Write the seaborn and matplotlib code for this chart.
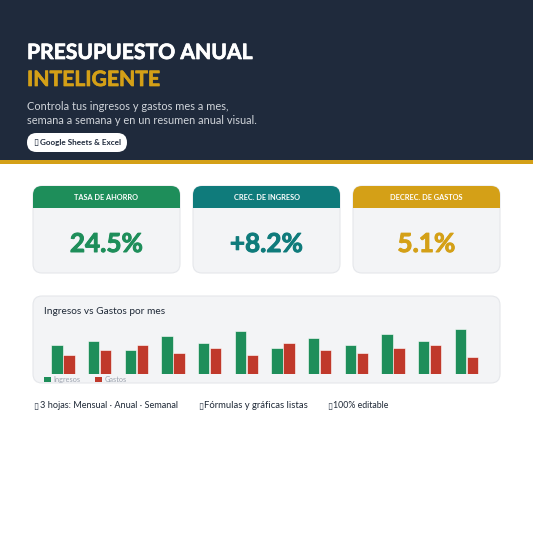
import matplotlib
matplotlib.use("Agg")
import matplotlib.pyplot as plt
import matplotlib.patheffects as pe
from matplotlib.patches import FancyBboxPatch, Rectangle
import seaborn as sns
import pandas as pd

months = ["Ene", "Feb", "Mar", "Abr", "May", "Jun", "Jul", "Ago", "Sep", "Oct", "Nov", "Dic"]
ingresos = [6, 7, 5, 8, 6.5, 9, 5.5, 7.5, 6, 8.5, 7, 9.5]
gastos = [4, 5, 6, 4.5, 5.5, 4, 6.5, 5, 4.5, 5.5, 6, 3.5]
card_titles = ["TASA DE AHORRO", "CREC. DE INGRESO", "DECREC. DE GASTOS"]
card_values = ["24.5%", "+8.2%", "5.1%"]

NAVY = "#1f2a3c"
GOLD = "#d4a017"
GREEN = "#1e8e5a"
TEAL = "#0f7b7b"
RED = "#c0392b"
PANEL = "#f3f4f6"
BORDER = "#e5e7eb"
card_colors = [GREEN, TEAL, GOLD]
BOX = "DejaVu Sans"

sns.set_theme(style="white")
plt.rcParams["font.family"] = ["Lato", "DejaVu Sans"]

fig = plt.figure(figsize=(5.33, 5.33), dpi=100, facecolor="white")

# page layer in pixel coords
bg = fig.add_axes([0, 0, 1, 1])
bg.set_xlim(0, 533)
bg.set_ylim(533, 0)
bg.axis("off")


def rounded(x0, y0, x1, y1, r, fc, ec="none", lw=0, z=1):
    p = FancyBboxPatch((x0 + r, y0 + r), x1 - x0 - 2 * r, y1 - y0 - 2 * r,
                       boxstyle=f"round,pad={r},rounding_size={r}",
                       fc=fc, ec=ec, lw=lw, zorder=z)
    bg.add_patch(p)
    return p


def heavy(t, color, w=0.5):
    # Lato tops out at bold here, thicken it a bit
    t.set_path_effects([pe.withStroke(linewidth=w, foreground=color)])


bg.add_patch(Rectangle((0, 0), 533, 160, fc=NAVY, ec="none"))
bg.add_patch(Rectangle((0, 160), 533, 4, fc=GOLD, ec="none"))

t = bg.text(27, 53, "PRESUPUESTO ANUAL", color="white", fontsize=15.2, fontweight="bold", va="center")
heavy(t, "white")
t = bg.text(27, 80, "INTELIGENTE", color=GOLD, fontsize=15.2, fontweight="bold", va="center")
heavy(t, GOLD)
bg.text(27, 107, "Controla tus ingresos y gastos mes a mes,", color="#d1d5db", fontsize=7.9, va="center")
bg.text(27, 120, "semana a semana y en un resumen anual visual.", color="#d1d5db", fontsize=7.9, va="center")
rounded(27, 133, 127, 152, 9.5, "white", z=2)
bg.text(33.5, 143, "\u25af", color=NAVY, fontsize=6.5, family=BOX, va="center", zorder=3)
bg.text(40, 143, "Google Sheets & Excel", color=NAVY, fontsize=5.9, fontweight="bold", va="center", zorder=3)

for i, left in enumerate([33, 193, 353]):
    right = left + 147
    rounded(left, 186, right, 273, 9, PANEL, BORDER, 0.8)
    head = rounded(left, 186, right, 240, 9, card_colors[i], z=2)
    clip = Rectangle((left - 1, 185), 149, 23, transform=bg.transData)
    head.set_clip_path(clip)
    bg.text(left + 73.5, 198, card_titles[i], color="white", fontsize=5.35, fontweight="bold",
            ha="center", va="center", zorder=3)
    t = bg.text(left + 73.5, 244, card_values[i], color=card_colors[i], fontsize=18.8, fontweight="bold",
                ha="center", va="center", zorder=3)
    heavy(t, card_colors[i], 0.7)

rounded(33, 296, 500, 383, 9, PANEL, BORDER, 0.8)
bg.text(44, 311, "Ingresos vs Gastos por mes", color="#1f2937", fontsize=7.25, va="center", zorder=3)

# footer
bg.text(33, 406, "\u25af", color="#374151", fontsize=6.5, family=BOX, va="center")
bg.text(40, 406, "3 hojas: Mensual \u00b7 Anual \u00b7 Semanal", color="#1f2937", fontsize=6.55, va="center")
bg.text(198, 406, "\u25af", color="#374151", fontsize=6.5, family=BOX, va="center")
bg.text(204, 406, "F\u00f3rmulas y gr\u00e1ficas listas", color="#1f2937", fontsize=6.8, va="center")
bg.text(327, 406, "\u25af", color="#374151", fontsize=6.5, family=BOX, va="center")
bg.text(333, 406, "100% editable", color="#1f2937", fontsize=6.3, va="center")

# bar chart
df = pd.DataFrame({"mes": months, "Ingresos": ingresos, "Gastos": gastos})
mdf = pd.melt(df, id_vars=["mes"], var_name="serie", value_name="valor")

ax = fig.add_axes([44.6 / 533, (533 - 373.8) / 533, 440 / 533, 47.2 / 533])
ax.patch.set_alpha(0)
sns.barplot(data=mdf, x="mes", y="valor", hue="serie", palette=[GREEN, RED], width=0.65, gap=0.05,
            saturation=1, edgecolor="white", linewidth=0.4, ax=ax)
ax.set_xlim(-0.5, 11.5)
ax.set_ylim(0, 10)
ax.set_xlabel("")
ax.set_ylabel("")
ax.set_xticks([])
ax.set_yticks([])
sns.despine(ax=ax, left=True, bottom=True)
leg = ax.legend(loc="upper left", bbox_to_anchor=(-0.001, -0.045), ncols=2, frameon=False, fontsize=5.3,
                handlelength=0.95, handleheight=0.72, handletextpad=0.27, columnspacing=2.04,
                borderpad=0, borderaxespad=0, labelcolor="#9ca3af")
for h in leg.get_patches():
    h.set_edgecolor("none")

fig.savefig("out.png", dpi=100, facecolor="white")
